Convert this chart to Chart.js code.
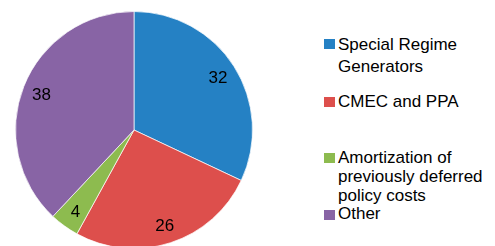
<!DOCTYPE html>
<html lang="en">
<head>
    <meta charset="UTF-8">
    <title>Cost breakdown</title>
    <script src="https://cdn.jsdelivr.net/npm/chart.js"></script>
    <style>
        html, body {
            margin: 0;
            padding: 0;
            overflow: hidden;
            background: #fff;
            width: 495px;
            height: 246px;
        }
        #wrap {
            position: absolute;
            left: 0;
            top: 0;
            width: 268px;
            height: 260px;
        }
        #legend {
            position: absolute;
            left: 0;
            top: 0;
            font-family: "Liberation Sans", Arial, sans-serif;
            font-size: 17px;
            color: #000;
        }
        .item {
            position: absolute;
            left: 324px;
            white-space: nowrap;
        }
        .box {
            position: absolute;
            left: 0;
            width: 11px;
            height: 10px;
        }
        .txt {
            position: absolute;
            left: 14px;
        }
    </style>
</head>
<body>
<div id="wrap"><canvas id="pie"></canvas></div>
<div id="legend"></div>

<script>
    // data
    const labels = ['Special Regime Generators', 'CMEC and PPA', 'Amortization of previously deferred policy costs', 'Other'];
    const legendLines = [['Special Regime', 'Generators'], ['CMEC and PPA'], ['Amortization of', 'previously deferred', 'policy costs'], ['Other']];
    const values = [32, 26, 4, 38];
    const colors = ['#2581c4', '#dd4f4c', '#8dbb4f', '#8864a5'];

    // legend rows sit at uneven heights in the original
    const legendTop = [34, 91, 148, 204];
    const legendLineHeight = [22, 21, 19, 19];
    const legendBoxTop = [5, 6, 5, 6];

    const sliceLabels = {
        id: 'sliceLabels',
        afterDatasetsDraw(chart) {
            const ctx = chart.ctx;
            const meta = chart.getDatasetMeta(0);
            ctx.save();
            ctx.font = '17px "Liberation Sans", Arial, sans-serif';
            ctx.fillStyle = '#000';
            ctx.textAlign = 'center';
            ctx.textBaseline = 'middle';
            meta.data.forEach((arc, i) => {
                const mid = (arc.startAngle + arc.endAngle) / 2;
                const r = arc.outerRadius * 0.84;
                ctx.fillText(String(values[i]), arc.x + Math.cos(mid) * r, arc.y + Math.sin(mid) * r + 2);
            });
            ctx.restore();
        }
    };

    new Chart(document.getElementById('pie'), {
        type: 'pie',
        data: {
            labels: labels,
            datasets: [{
                data: values,
                backgroundColor: colors,
                borderColor: 'rgba(255,255,255,0.7)',
                borderWidth: 1
            }]
        },
        options: {
            responsive: true,
            maintainAspectRatio: false,
            animation: false,
            layout: { padding: { top: 11, bottom: 11, left: 0, right: 0 } },
            plugins: {
                legend: { display: false },
                tooltip: { enabled: false }
            }
        },
        plugins: [sliceLabels]
    });

    // html legend
    const legend = document.getElementById('legend');
    legendLines.forEach((lines, i) => {
        const item = document.createElement('div');
        item.className = 'item';
        item.style.top = legendTop[i] + 'px';
        const box = document.createElement('div');
        box.className = 'box';
        box.style.background = colors[i];
        box.style.top = legendBoxTop[i] + 'px';
        const txt = document.createElement('div');
        txt.className = 'txt';
        txt.style.lineHeight = legendLineHeight[i] + 'px';
        txt.innerHTML = lines.join('<br>');
        item.appendChild(box);
        item.appendChild(txt);
        legend.appendChild(item);
    });
</script>
</body>
</html>
